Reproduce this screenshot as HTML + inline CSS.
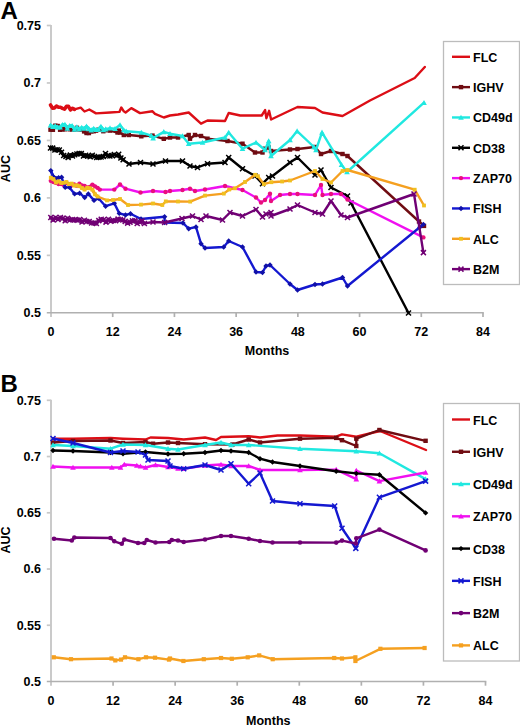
<!DOCTYPE html>
<html><head><meta charset="utf-8"><title>AUC over time</title>
<style>
html,body{margin:0;padding:0;background:#fff;}
body{width:520px;height:728px;overflow:hidden;}
svg{display:block;}
.t{font-family:"Liberation Sans",sans-serif;font-weight:bold;font-size:12.5px;fill:#000;}
.ttl{font-family:"Liberation Sans",sans-serif;font-weight:bold;font-size:24px;fill:#000;}
</style></head><body>
<svg width="520" height="728" viewBox="0 0 520 728">
<rect width="520" height="728" fill="#fff"/>
<path d="M51 24.9V317.05" fill="none" stroke="#c8c8c8" stroke-width="1.9"/>
<path d="M46.8 312.85H483.8" fill="none" stroke="#b0b0b0" stroke-width="1.5"/>
<path d="M46.8 25.5H51" stroke="#c8c8c8" stroke-width="1.7"/>
<text x="41" y="29.8" text-anchor="end" class="t">0.75</text>
<path d="M46.8 82.97H51" stroke="#c8c8c8" stroke-width="1.7"/>
<text x="41" y="87.27" text-anchor="end" class="t">0.7</text>
<path d="M46.8 140.44H51" stroke="#c8c8c8" stroke-width="1.7"/>
<text x="41" y="144.74" text-anchor="end" class="t">0.65</text>
<path d="M46.8 197.91H51" stroke="#c8c8c8" stroke-width="1.7"/>
<text x="41" y="202.21" text-anchor="end" class="t">0.6</text>
<path d="M46.8 255.38H51" stroke="#c8c8c8" stroke-width="1.7"/>
<text x="41" y="259.68" text-anchor="end" class="t">0.55</text>
<text x="41" y="317.15" text-anchor="end" class="t">0.5</text>
<text x="51" y="335.8" text-anchor="middle" class="t">0</text>
<path d="M112.71 312.85V317.05" stroke="#b0b0b0" stroke-width="1.7"/>
<text x="112.71" y="335.8" text-anchor="middle" class="t">12</text>
<path d="M174.43 312.85V317.05" stroke="#b0b0b0" stroke-width="1.7"/>
<text x="174.43" y="335.8" text-anchor="middle" class="t">24</text>
<path d="M236.14 312.85V317.05" stroke="#b0b0b0" stroke-width="1.7"/>
<text x="236.14" y="335.8" text-anchor="middle" class="t">36</text>
<path d="M297.86 312.85V317.05" stroke="#b0b0b0" stroke-width="1.7"/>
<text x="297.86" y="335.8" text-anchor="middle" class="t">48</text>
<path d="M359.57 312.85V317.05" stroke="#b0b0b0" stroke-width="1.7"/>
<text x="359.57" y="335.8" text-anchor="middle" class="t">60</text>
<path d="M421.29 312.85V317.05" stroke="#b0b0b0" stroke-width="1.7"/>
<text x="421.29" y="335.8" text-anchor="middle" class="t">72</text>
<path d="M483 312.85V317.05" stroke="#b0b0b0" stroke-width="1.7"/>
<text x="483" y="335.8" text-anchor="middle" class="t">84</text>
<text x="267" y="355.3" text-anchor="middle" class="t">Months</text>
<text transform="translate(10.2 168.6) rotate(-90)" text-anchor="middle" class="t">AUC</text>
<text x="0.4" y="19" class="ttl">A</text>
<polyline points="50.5,104.96 52.5,108.14 54.5,107.97 56.5,106.02 58.5,107.24 60.5,107.26 62.5,108.32 64.5,109.11 66.5,106.39 68.5,106.3 70.5,109.87 72.5,108.26 74.5,109.41" fill="none" stroke="#dc0e16" stroke-width="3.6" stroke-linejoin="round" stroke-linecap="round"/>
<polyline points="50.5,104.96 52.5,108.14 54.5,107.97 56.5,106.02 58.5,107.24 60.5,107.26 62.5,108.32 64.5,109.11 66.5,106.39 68.5,106.3 70.5,109.87 72.5,108.26 74.5,109.41 80.7,107.6 84.5,111.5 89.3,109.5 96,113.4 110,112.5 119.4,111.9 121.3,107.5 123.8,111.3 125.6,112.5 131.3,108.1 140,113.1 152.5,111.3 155,113.8 163.8,117.5 170,115.5 178,114.5 188.7,112.5 201,123.7 207.5,120.5 225,121 228.7,113 240.2,115.5 261.7,115.5 265.1,110.1 266.4,118.2 269.1,110.8 271.1,119.5 290,110.5 297.5,107 315,108 322.5,112.5 342.5,116 370,100.5 414.7,78 424.8,67" fill="none" stroke="#dc0e16" stroke-width="2.4" stroke-linejoin="round" stroke-linecap="round"/>
<polyline points="50.5,129.69 52.9,129.81 55.3,125.69 57.7,125.99 60.1,129.75 62.5,129.43 64.9,129.27 67.3,127.7 69.7,129.29 72.1,129.45 74.5,129.57 76.9,127.83 79.3,129.42 81.7,129.53 84.1,131.4 86.5,133 88.9,133.07 91.3,131.41 93.7,131.22 96.1,130.66 98.5,129.71 100.9,129.39 103.3,131.21 105.7,130.23" fill="none" stroke="#700c12" stroke-width="3.0" stroke-linejoin="round" stroke-linecap="round"/>
<polyline points="50.5,129.69 52.9,129.81 55.3,125.69 57.7,125.99 60.1,129.75 62.5,129.43 64.9,129.27 67.3,127.7 69.7,129.29 72.1,129.45 74.5,129.57 76.9,127.83 79.3,129.42 81.7,129.53 84.1,131.4 86.5,133 88.9,133.07 91.3,131.41 93.7,131.22 96.1,130.66 98.5,129.71 100.9,129.39 103.3,131.21 105.7,130.23 110,130.6 117.5,132.5 118.8,130.6 120,132.5 123.8,135 128.8,135 141.3,136.3 152.5,135.6 163.8,138.8 170,137.5 178,137.5 188.7,135 190,138.7 195,135 201,136 207.5,138.7 227.5,141 242.5,143.7 255,152.5 262.5,152.5 265,148.7 268.7,147.5 271,151 290,149.5 297.5,149 315,147 321,154 331,151 342.5,154 347.5,156 419,221.5 424,225.9" fill="none" stroke="#700c12" stroke-width="2.4" stroke-linejoin="round" stroke-linecap="round"/>
<rect x="48.3" y="127.49" width="4.4" height="4.4" fill="#700c12"/>
<rect x="50.7" y="127.61" width="4.4" height="4.4" fill="#700c12"/>
<rect x="53.1" y="123.49" width="4.4" height="4.4" fill="#700c12"/>
<rect x="55.5" y="123.79" width="4.4" height="4.4" fill="#700c12"/>
<rect x="57.9" y="127.55" width="4.4" height="4.4" fill="#700c12"/>
<rect x="60.3" y="127.23" width="4.4" height="4.4" fill="#700c12"/>
<rect x="62.7" y="127.07" width="4.4" height="4.4" fill="#700c12"/>
<rect x="65.1" y="125.5" width="4.4" height="4.4" fill="#700c12"/>
<rect x="67.5" y="127.09" width="4.4" height="4.4" fill="#700c12"/>
<rect x="69.9" y="127.25" width="4.4" height="4.4" fill="#700c12"/>
<rect x="72.3" y="127.37" width="4.4" height="4.4" fill="#700c12"/>
<rect x="74.7" y="125.63" width="4.4" height="4.4" fill="#700c12"/>
<rect x="77.1" y="127.22" width="4.4" height="4.4" fill="#700c12"/>
<rect x="79.5" y="127.33" width="4.4" height="4.4" fill="#700c12"/>
<rect x="81.9" y="129.2" width="4.4" height="4.4" fill="#700c12"/>
<rect x="84.3" y="130.8" width="4.4" height="4.4" fill="#700c12"/>
<rect x="86.7" y="130.87" width="4.4" height="4.4" fill="#700c12"/>
<rect x="89.1" y="129.21" width="4.4" height="4.4" fill="#700c12"/>
<rect x="91.5" y="129.02" width="4.4" height="4.4" fill="#700c12"/>
<rect x="93.9" y="128.46" width="4.4" height="4.4" fill="#700c12"/>
<rect x="96.3" y="127.51" width="4.4" height="4.4" fill="#700c12"/>
<rect x="98.7" y="127.19" width="4.4" height="4.4" fill="#700c12"/>
<rect x="101.1" y="129.01" width="4.4" height="4.4" fill="#700c12"/>
<rect x="103.5" y="128.03" width="4.4" height="4.4" fill="#700c12"/>
<rect x="107.8" y="128.4" width="4.4" height="4.4" fill="#700c12"/>
<rect x="115.3" y="130.3" width="4.4" height="4.4" fill="#700c12"/>
<rect x="116.6" y="128.4" width="4.4" height="4.4" fill="#700c12"/>
<rect x="117.8" y="130.3" width="4.4" height="4.4" fill="#700c12"/>
<rect x="121.6" y="132.8" width="4.4" height="4.4" fill="#700c12"/>
<rect x="126.6" y="132.8" width="4.4" height="4.4" fill="#700c12"/>
<rect x="139.1" y="134.1" width="4.4" height="4.4" fill="#700c12"/>
<rect x="150.3" y="133.4" width="4.4" height="4.4" fill="#700c12"/>
<rect x="161.6" y="136.6" width="4.4" height="4.4" fill="#700c12"/>
<rect x="167.8" y="135.3" width="4.4" height="4.4" fill="#700c12"/>
<rect x="175.8" y="135.3" width="4.4" height="4.4" fill="#700c12"/>
<rect x="186.5" y="132.8" width="4.4" height="4.4" fill="#700c12"/>
<rect x="187.8" y="136.5" width="4.4" height="4.4" fill="#700c12"/>
<rect x="192.8" y="132.8" width="4.4" height="4.4" fill="#700c12"/>
<rect x="198.8" y="133.8" width="4.4" height="4.4" fill="#700c12"/>
<rect x="205.3" y="136.5" width="4.4" height="4.4" fill="#700c12"/>
<rect x="225.3" y="138.8" width="4.4" height="4.4" fill="#700c12"/>
<rect x="240.3" y="141.5" width="4.4" height="4.4" fill="#700c12"/>
<rect x="252.8" y="150.3" width="4.4" height="4.4" fill="#700c12"/>
<rect x="260.3" y="150.3" width="4.4" height="4.4" fill="#700c12"/>
<rect x="262.8" y="146.5" width="4.4" height="4.4" fill="#700c12"/>
<rect x="266.5" y="145.3" width="4.4" height="4.4" fill="#700c12"/>
<rect x="268.8" y="148.8" width="4.4" height="4.4" fill="#700c12"/>
<rect x="287.8" y="147.3" width="4.4" height="4.4" fill="#700c12"/>
<rect x="295.3" y="146.8" width="4.4" height="4.4" fill="#700c12"/>
<rect x="312.8" y="144.8" width="4.4" height="4.4" fill="#700c12"/>
<rect x="318.8" y="151.8" width="4.4" height="4.4" fill="#700c12"/>
<rect x="328.8" y="148.8" width="4.4" height="4.4" fill="#700c12"/>
<rect x="340.3" y="151.8" width="4.4" height="4.4" fill="#700c12"/>
<rect x="345.3" y="153.8" width="4.4" height="4.4" fill="#700c12"/>
<rect x="416.8" y="219.3" width="4.4" height="4.4" fill="#700c12"/>
<rect x="421.8" y="223.7" width="4.4" height="4.4" fill="#700c12"/>
<polyline points="50.5,125.24 52.9,126.77 55.3,125.98 57.7,127.16 60.1,127.32 62.5,124.68 64.9,124.48 67.3,128.49 69.7,125.77 72.1,125.7 74.5,129.49 76.9,127.15 79.3,129.09 81.7,127.54 84.1,128.5 86.5,126.34 88.9,128.84 91.3,130.14 93.7,128.62 96.1,129.71 98.5,129.41 100.9,126.53 103.3,129.9 105.7,129.11" fill="none" stroke="#20e8e0" stroke-width="3.0" stroke-linejoin="round" stroke-linecap="round"/>
<polyline points="50.5,125.24 52.9,126.77 55.3,125.98 57.7,127.16 60.1,127.32 62.5,124.68 64.9,124.48 67.3,128.49 69.7,125.77 72.1,125.7 74.5,129.49 76.9,127.15 79.3,129.09 81.7,127.54 84.1,128.5 86.5,126.34 88.9,128.84 91.3,130.14 93.7,128.62 96.1,129.71 98.5,129.41 100.9,126.53 103.3,129.9 105.7,129.11 110,128.1 115,128.8 120,125 123.8,130 126.3,131.3 141.3,132.5 151.3,135.6 153.1,138.1 163.8,131.9 170,133.7 182.5,136 188.7,143.7 202.5,142.5 225,137.5 228.7,132.5 242.5,148.7 256,142.5 265,150 268.7,141 271,156 290,140 297.1,131.1 314,147 316,150 322,132.4 341.5,164.7 347,172 424,102.7" fill="none" stroke="#20e8e0" stroke-width="2.4" stroke-linejoin="round" stroke-linecap="round"/>
<path d="M50.5 122.44L53.3 127.54L47.7 127.54Z" fill="#20e8e0"/>
<path d="M52.9 123.97L55.7 129.07L50.1 129.07Z" fill="#20e8e0"/>
<path d="M55.3 123.18L58.1 128.28L52.5 128.28Z" fill="#20e8e0"/>
<path d="M57.7 124.36L60.5 129.46L54.9 129.46Z" fill="#20e8e0"/>
<path d="M60.1 124.52L62.9 129.62L57.3 129.62Z" fill="#20e8e0"/>
<path d="M62.5 121.88L65.3 126.98L59.7 126.98Z" fill="#20e8e0"/>
<path d="M64.9 121.68L67.7 126.78L62.1 126.78Z" fill="#20e8e0"/>
<path d="M67.3 125.69L70.1 130.79L64.5 130.79Z" fill="#20e8e0"/>
<path d="M69.7 122.97L72.5 128.07L66.9 128.07Z" fill="#20e8e0"/>
<path d="M72.1 122.9L74.9 128L69.3 128Z" fill="#20e8e0"/>
<path d="M74.5 126.69L77.3 131.79L71.7 131.79Z" fill="#20e8e0"/>
<path d="M76.9 124.35L79.7 129.45L74.1 129.45Z" fill="#20e8e0"/>
<path d="M79.3 126.29L82.1 131.39L76.5 131.39Z" fill="#20e8e0"/>
<path d="M81.7 124.74L84.5 129.84L78.9 129.84Z" fill="#20e8e0"/>
<path d="M84.1 125.7L86.9 130.8L81.3 130.8Z" fill="#20e8e0"/>
<path d="M86.5 123.54L89.3 128.64L83.7 128.64Z" fill="#20e8e0"/>
<path d="M88.9 126.04L91.7 131.14L86.1 131.14Z" fill="#20e8e0"/>
<path d="M91.3 127.34L94.1 132.44L88.5 132.44Z" fill="#20e8e0"/>
<path d="M93.7 125.82L96.5 130.92L90.9 130.92Z" fill="#20e8e0"/>
<path d="M96.1 126.91L98.9 132.01L93.3 132.01Z" fill="#20e8e0"/>
<path d="M98.5 126.61L101.3 131.71L95.7 131.71Z" fill="#20e8e0"/>
<path d="M100.9 123.73L103.7 128.83L98.1 128.83Z" fill="#20e8e0"/>
<path d="M103.3 127.1L106.1 132.2L100.5 132.2Z" fill="#20e8e0"/>
<path d="M105.7 126.31L108.5 131.41L102.9 131.41Z" fill="#20e8e0"/>
<path d="M110 125.3L112.8 130.4L107.2 130.4Z" fill="#20e8e0"/>
<path d="M115 126L117.8 131.1L112.2 131.1Z" fill="#20e8e0"/>
<path d="M120 122.2L122.8 127.3L117.2 127.3Z" fill="#20e8e0"/>
<path d="M123.8 127.2L126.6 132.3L121 132.3Z" fill="#20e8e0"/>
<path d="M126.3 128.5L129.1 133.6L123.5 133.6Z" fill="#20e8e0"/>
<path d="M141.3 129.7L144.1 134.8L138.5 134.8Z" fill="#20e8e0"/>
<path d="M151.3 132.8L154.1 137.9L148.5 137.9Z" fill="#20e8e0"/>
<path d="M153.1 135.3L155.9 140.4L150.3 140.4Z" fill="#20e8e0"/>
<path d="M163.8 129.1L166.6 134.2L161 134.2Z" fill="#20e8e0"/>
<path d="M170 130.9L172.8 136L167.2 136Z" fill="#20e8e0"/>
<path d="M182.5 133.2L185.3 138.3L179.7 138.3Z" fill="#20e8e0"/>
<path d="M188.7 140.9L191.5 146L185.9 146Z" fill="#20e8e0"/>
<path d="M202.5 139.7L205.3 144.8L199.7 144.8Z" fill="#20e8e0"/>
<path d="M225 134.7L227.8 139.8L222.2 139.8Z" fill="#20e8e0"/>
<path d="M228.7 129.7L231.5 134.8L225.9 134.8Z" fill="#20e8e0"/>
<path d="M242.5 145.9L245.3 151L239.7 151Z" fill="#20e8e0"/>
<path d="M256 139.7L258.8 144.8L253.2 144.8Z" fill="#20e8e0"/>
<path d="M265 147.2L267.8 152.3L262.2 152.3Z" fill="#20e8e0"/>
<path d="M268.7 138.2L271.5 143.3L265.9 143.3Z" fill="#20e8e0"/>
<path d="M271 153.2L273.8 158.3L268.2 158.3Z" fill="#20e8e0"/>
<path d="M290 137.2L292.8 142.3L287.2 142.3Z" fill="#20e8e0"/>
<path d="M297.1 128.3L299.9 133.4L294.3 133.4Z" fill="#20e8e0"/>
<path d="M314 144.2L316.8 149.3L311.2 149.3Z" fill="#20e8e0"/>
<path d="M316 147.2L318.8 152.3L313.2 152.3Z" fill="#20e8e0"/>
<path d="M322 129.6L324.8 134.7L319.2 134.7Z" fill="#20e8e0"/>
<path d="M341.5 161.9L344.3 167L338.7 167Z" fill="#20e8e0"/>
<path d="M347 169.2L349.8 174.3L344.2 174.3Z" fill="#20e8e0"/>
<path d="M424 99.9L426.8 105L421.2 105Z" fill="#20e8e0"/>
<polyline points="50.5,148 52.7,148.15 54.9,149.93 57.1,149.67 59.3,149.99 61.5,152.23 63.7,155.51 65.9,156.38 68.1,157.49 70.3,155.11 72.5,156 74.7,154.69 76.9,153.98 79.1,153.42 81.3,153.51 83.5,155.91 85.7,155.32 87.9,156.01 90.1,156.75 92.3,155.22 94.5,156.43 96.7,157.58 98.9,157.25 101.1,156.98 103.3,156.46 105.5,153.57 107.7,155.67 109.9,156.05 112.1,155.54 114.3,154.42 116.5,155.67 118.7,154.34 120.9,158.03 123.1,159.84" fill="none" stroke="#000000" stroke-width="3.2" stroke-linejoin="round" stroke-linecap="round"/>
<polyline points="50.5,148 52.7,148.15 54.9,149.93 57.1,149.67 59.3,149.99 61.5,152.23 63.7,155.51 65.9,156.38 68.1,157.49 70.3,155.11 72.5,156 74.7,154.69 76.9,153.98 79.1,153.42 81.3,153.51 83.5,155.91 85.7,155.32 87.9,156.01 90.1,156.75 92.3,155.22 94.5,156.43 96.7,157.58 98.9,157.25 101.1,156.98 103.3,156.46 105.5,153.57 107.7,155.67 109.9,156.05 112.1,155.54 114.3,154.42 116.5,155.67 118.7,154.34 120.9,158.03 123.1,159.84 129,164 140.5,162.5 153,164 165.5,161 182.5,161 190,166 197.5,167.5 207.5,163.7 225,162.5 228.7,157.5 242.5,168.7 255,176 262.5,183.7 268.7,177.5 272.5,176 290,162.5 297.5,157.5 315,175 321,170 331,187.5 347.5,196 351,203 408.5,313" fill="none" stroke="#000000" stroke-width="2.4" stroke-linejoin="round" stroke-linecap="round"/>
<path d="M48 145.5L53 150.5M48 150.5L53 145.5" stroke="#000000" stroke-width="1.5" fill="none"/>
<path d="M50.2 145.65L55.2 150.65M50.2 150.65L55.2 145.65" stroke="#000000" stroke-width="1.5" fill="none"/>
<path d="M52.4 147.43L57.4 152.43M52.4 152.43L57.4 147.43" stroke="#000000" stroke-width="1.5" fill="none"/>
<path d="M54.6 147.17L59.6 152.17M54.6 152.17L59.6 147.17" stroke="#000000" stroke-width="1.5" fill="none"/>
<path d="M56.8 147.49L61.8 152.49M56.8 152.49L61.8 147.49" stroke="#000000" stroke-width="1.5" fill="none"/>
<path d="M59 149.73L64 154.73M59 154.73L64 149.73" stroke="#000000" stroke-width="1.5" fill="none"/>
<path d="M61.2 153.01L66.2 158.01M61.2 158.01L66.2 153.01" stroke="#000000" stroke-width="1.5" fill="none"/>
<path d="M63.4 153.88L68.4 158.88M63.4 158.88L68.4 153.88" stroke="#000000" stroke-width="1.5" fill="none"/>
<path d="M65.6 154.99L70.6 159.99M65.6 159.99L70.6 154.99" stroke="#000000" stroke-width="1.5" fill="none"/>
<path d="M67.8 152.61L72.8 157.61M67.8 157.61L72.8 152.61" stroke="#000000" stroke-width="1.5" fill="none"/>
<path d="M70 153.5L75 158.5M70 158.5L75 153.5" stroke="#000000" stroke-width="1.5" fill="none"/>
<path d="M72.2 152.19L77.2 157.19M72.2 157.19L77.2 152.19" stroke="#000000" stroke-width="1.5" fill="none"/>
<path d="M74.4 151.48L79.4 156.48M74.4 156.48L79.4 151.48" stroke="#000000" stroke-width="1.5" fill="none"/>
<path d="M76.6 150.92L81.6 155.92M76.6 155.92L81.6 150.92" stroke="#000000" stroke-width="1.5" fill="none"/>
<path d="M78.8 151.01L83.8 156.01M78.8 156.01L83.8 151.01" stroke="#000000" stroke-width="1.5" fill="none"/>
<path d="M81 153.41L86 158.41M81 158.41L86 153.41" stroke="#000000" stroke-width="1.5" fill="none"/>
<path d="M83.2 152.82L88.2 157.82M83.2 157.82L88.2 152.82" stroke="#000000" stroke-width="1.5" fill="none"/>
<path d="M85.4 153.51L90.4 158.51M85.4 158.51L90.4 153.51" stroke="#000000" stroke-width="1.5" fill="none"/>
<path d="M87.6 154.25L92.6 159.25M87.6 159.25L92.6 154.25" stroke="#000000" stroke-width="1.5" fill="none"/>
<path d="M89.8 152.72L94.8 157.72M89.8 157.72L94.8 152.72" stroke="#000000" stroke-width="1.5" fill="none"/>
<path d="M92 153.93L97 158.93M92 158.93L97 153.93" stroke="#000000" stroke-width="1.5" fill="none"/>
<path d="M94.2 155.08L99.2 160.08M94.2 160.08L99.2 155.08" stroke="#000000" stroke-width="1.5" fill="none"/>
<path d="M96.4 154.75L101.4 159.75M96.4 159.75L101.4 154.75" stroke="#000000" stroke-width="1.5" fill="none"/>
<path d="M98.6 154.48L103.6 159.48M98.6 159.48L103.6 154.48" stroke="#000000" stroke-width="1.5" fill="none"/>
<path d="M100.8 153.96L105.8 158.96M100.8 158.96L105.8 153.96" stroke="#000000" stroke-width="1.5" fill="none"/>
<path d="M103 151.07L108 156.07M103 156.07L108 151.07" stroke="#000000" stroke-width="1.5" fill="none"/>
<path d="M105.2 153.17L110.2 158.17M105.2 158.17L110.2 153.17" stroke="#000000" stroke-width="1.5" fill="none"/>
<path d="M107.4 153.55L112.4 158.55M107.4 158.55L112.4 153.55" stroke="#000000" stroke-width="1.5" fill="none"/>
<path d="M109.6 153.04L114.6 158.04M109.6 158.04L114.6 153.04" stroke="#000000" stroke-width="1.5" fill="none"/>
<path d="M111.8 151.92L116.8 156.92M111.8 156.92L116.8 151.92" stroke="#000000" stroke-width="1.5" fill="none"/>
<path d="M114 153.17L119 158.17M114 158.17L119 153.17" stroke="#000000" stroke-width="1.5" fill="none"/>
<path d="M116.2 151.84L121.2 156.84M116.2 156.84L121.2 151.84" stroke="#000000" stroke-width="1.5" fill="none"/>
<path d="M118.4 155.53L123.4 160.53M118.4 160.53L123.4 155.53" stroke="#000000" stroke-width="1.5" fill="none"/>
<path d="M120.6 157.34L125.6 162.34M120.6 162.34L125.6 157.34" stroke="#000000" stroke-width="1.5" fill="none"/>
<path d="M126.5 161.5L131.5 166.5M126.5 166.5L131.5 161.5" stroke="#000000" stroke-width="1.5" fill="none"/>
<path d="M138 160L143 165M138 165L143 160" stroke="#000000" stroke-width="1.5" fill="none"/>
<path d="M150.5 161.5L155.5 166.5M150.5 166.5L155.5 161.5" stroke="#000000" stroke-width="1.5" fill="none"/>
<path d="M163 158.5L168 163.5M163 163.5L168 158.5" stroke="#000000" stroke-width="1.5" fill="none"/>
<path d="M180 158.5L185 163.5M180 163.5L185 158.5" stroke="#000000" stroke-width="1.5" fill="none"/>
<path d="M187.5 163.5L192.5 168.5M187.5 168.5L192.5 163.5" stroke="#000000" stroke-width="1.5" fill="none"/>
<path d="M195 165L200 170M195 170L200 165" stroke="#000000" stroke-width="1.5" fill="none"/>
<path d="M205 161.2L210 166.2M205 166.2L210 161.2" stroke="#000000" stroke-width="1.5" fill="none"/>
<path d="M222.5 160L227.5 165M222.5 165L227.5 160" stroke="#000000" stroke-width="1.5" fill="none"/>
<path d="M226.2 155L231.2 160M226.2 160L231.2 155" stroke="#000000" stroke-width="1.5" fill="none"/>
<path d="M240 166.2L245 171.2M240 171.2L245 166.2" stroke="#000000" stroke-width="1.5" fill="none"/>
<path d="M252.5 173.5L257.5 178.5M252.5 178.5L257.5 173.5" stroke="#000000" stroke-width="1.5" fill="none"/>
<path d="M260 181.2L265 186.2M260 186.2L265 181.2" stroke="#000000" stroke-width="1.5" fill="none"/>
<path d="M266.2 175L271.2 180M266.2 180L271.2 175" stroke="#000000" stroke-width="1.5" fill="none"/>
<path d="M270 173.5L275 178.5M270 178.5L275 173.5" stroke="#000000" stroke-width="1.5" fill="none"/>
<path d="M287.5 160L292.5 165M287.5 165L292.5 160" stroke="#000000" stroke-width="1.5" fill="none"/>
<path d="M295 155L300 160M295 160L300 155" stroke="#000000" stroke-width="1.5" fill="none"/>
<path d="M312.5 172.5L317.5 177.5M312.5 177.5L317.5 172.5" stroke="#000000" stroke-width="1.5" fill="none"/>
<path d="M318.5 167.5L323.5 172.5M318.5 172.5L323.5 167.5" stroke="#000000" stroke-width="1.5" fill="none"/>
<path d="M328.5 185L333.5 190M328.5 190L333.5 185" stroke="#000000" stroke-width="1.5" fill="none"/>
<path d="M345 193.5L350 198.5M345 198.5L350 193.5" stroke="#000000" stroke-width="1.5" fill="none"/>
<path d="M348.5 200.5L353.5 205.5M348.5 205.5L353.5 200.5" stroke="#000000" stroke-width="1.5" fill="none"/>
<path d="M406 310.5L411 315.5M406 315.5L411 310.5" stroke="#000000" stroke-width="1.5" fill="none"/>
<polyline points="50.8,180.87 53.4,181.98 56,182.89 58.6,183.94 61.2,183.95 63.8,185.11 66.4,183.04 69,184.1 71.6,185.21 74.2,184.39 76.8,185.66 79.4,183.82 82,185.57 84.6,185.84 87.2,187.43 89.8,186.9 92.4,184.59 95,186.35 97.6,187.84 99.8,189.6" fill="none" stroke="#f010f0" stroke-width="3.0" stroke-linejoin="round" stroke-linecap="round"/>
<polyline points="50.8,180.87 53.4,181.98 56,182.89 58.6,183.94 61.2,183.95 63.8,185.11 66.4,183.04 69,184.1 71.6,185.21 74.2,184.39 76.8,185.66 79.4,183.82 82,185.57 84.6,185.84 87.2,187.43 89.8,186.9 92.4,184.59 95,186.35 97.6,187.84 99.8,189.6 114.3,189.6 120,184.5 125.5,188.7 140.5,192.5 153,191 165.5,192 170,191 182.5,190 190,188.7 195,191 205,189.5 225,186 242.5,190 256,197.5 261,202.5 265,200 270,193.7 271,201 280,195 290,194 297.5,194 315,195 321,185 322.5,195 331,194 341,194 347.5,199.5 423.4,237.4" fill="none" stroke="#f010f0" stroke-width="2.4" stroke-linejoin="round" stroke-linecap="round"/>
<circle cx="50.8" cy="180.87" r="2.2" fill="#e8107c"/>
<circle cx="53.4" cy="181.98" r="2.2" fill="#e8107c"/>
<circle cx="56" cy="182.89" r="2.2" fill="#e8107c"/>
<circle cx="58.6" cy="183.94" r="2.2" fill="#e8107c"/>
<circle cx="61.2" cy="183.95" r="2.2" fill="#e8107c"/>
<circle cx="63.8" cy="185.11" r="2.2" fill="#e8107c"/>
<circle cx="66.4" cy="183.04" r="2.2" fill="#e8107c"/>
<circle cx="69" cy="184.1" r="2.2" fill="#e8107c"/>
<circle cx="71.6" cy="185.21" r="2.2" fill="#e8107c"/>
<circle cx="74.2" cy="184.39" r="2.2" fill="#e8107c"/>
<circle cx="76.8" cy="185.66" r="2.2" fill="#e8107c"/>
<circle cx="79.4" cy="183.82" r="2.2" fill="#e8107c"/>
<circle cx="82" cy="185.57" r="2.2" fill="#e8107c"/>
<circle cx="84.6" cy="185.84" r="2.2" fill="#e8107c"/>
<circle cx="87.2" cy="187.43" r="2.2" fill="#e8107c"/>
<circle cx="89.8" cy="186.9" r="2.2" fill="#e8107c"/>
<circle cx="92.4" cy="184.59" r="2.2" fill="#e8107c"/>
<circle cx="95" cy="186.35" r="2.2" fill="#e8107c"/>
<circle cx="97.6" cy="187.84" r="2.2" fill="#e8107c"/>
<circle cx="99.8" cy="189.6" r="2.2" fill="#e8107c"/>
<circle cx="114.3" cy="189.6" r="2.2" fill="#e8107c"/>
<circle cx="120" cy="184.5" r="2.2" fill="#e8107c"/>
<circle cx="125.5" cy="188.7" r="2.2" fill="#e8107c"/>
<circle cx="140.5" cy="192.5" r="2.2" fill="#e8107c"/>
<circle cx="153" cy="191" r="2.2" fill="#e8107c"/>
<circle cx="165.5" cy="192" r="2.2" fill="#e8107c"/>
<circle cx="170" cy="191" r="2.2" fill="#e8107c"/>
<circle cx="182.5" cy="190" r="2.2" fill="#e8107c"/>
<circle cx="190" cy="188.7" r="2.2" fill="#e8107c"/>
<circle cx="195" cy="191" r="2.2" fill="#e8107c"/>
<circle cx="205" cy="189.5" r="2.2" fill="#e8107c"/>
<circle cx="225" cy="186" r="2.2" fill="#e8107c"/>
<circle cx="242.5" cy="190" r="2.2" fill="#e8107c"/>
<circle cx="256" cy="197.5" r="2.2" fill="#e8107c"/>
<circle cx="261" cy="202.5" r="2.2" fill="#e8107c"/>
<circle cx="265" cy="200" r="2.2" fill="#e8107c"/>
<circle cx="270" cy="193.7" r="2.2" fill="#e8107c"/>
<circle cx="271" cy="201" r="2.2" fill="#e8107c"/>
<circle cx="280" cy="195" r="2.2" fill="#e8107c"/>
<circle cx="290" cy="194" r="2.2" fill="#e8107c"/>
<circle cx="297.5" cy="194" r="2.2" fill="#e8107c"/>
<circle cx="315" cy="195" r="2.2" fill="#e8107c"/>
<circle cx="321" cy="185" r="2.2" fill="#e8107c"/>
<circle cx="322.5" cy="195" r="2.2" fill="#e8107c"/>
<circle cx="331" cy="194" r="2.2" fill="#e8107c"/>
<circle cx="341" cy="194" r="2.2" fill="#e8107c"/>
<circle cx="347.5" cy="199.5" r="2.2" fill="#e8107c"/>
<circle cx="423.4" cy="237.4" r="2.2" fill="#e8107c"/>
<polyline points="50.8,170.59 53.4,176.72 56,178.33 58.6,177.71 61.6,177.3" fill="none" stroke="#1418d0" stroke-width="2.6" stroke-linejoin="round" stroke-linecap="round"/>
<polyline points="50.8,170.59 53.4,176.72 56,178.33 58.6,177.71 61.6,177.3 65.2,187.4 69.5,187.4 74.6,193.9 79.6,193.2 84.7,197.5 88.3,193.9 94,200.4 98.4,198.2 105.6,206.2 114.3,203.3 119.3,213.4 125.5,215 130.5,213.7 141,219 164.6,216.7 164.6,222.5 183,223 188.7,228.7 196,227 201,243.7 205,248 223.7,247 228.7,241 242.5,247 256,272 262.5,272.5 266,266 270,265 290,284 297.5,290 315,284.5 322.5,284 342.5,277.5 347.5,286 419.8,227.3 423.4,224.4" fill="none" stroke="#1418d0" stroke-width="2.4" stroke-linejoin="round" stroke-linecap="round"/>
<path d="M50.8 167.89L53.5 170.59L50.8 173.29L48.1 170.59Z" fill="#1010a8"/>
<path d="M53.4 174.02L56.1 176.72L53.4 179.42L50.7 176.72Z" fill="#1010a8"/>
<path d="M56 175.63L58.7 178.33L56 181.03L53.3 178.33Z" fill="#1010a8"/>
<path d="M58.6 175.01L61.3 177.71L58.6 180.41L55.9 177.71Z" fill="#1010a8"/>
<path d="M61.6 174.6L64.3 177.3L61.6 180L58.9 177.3Z" fill="#1010a8"/>
<path d="M65.2 184.7L67.9 187.4L65.2 190.1L62.5 187.4Z" fill="#1010a8"/>
<path d="M69.5 184.7L72.2 187.4L69.5 190.1L66.8 187.4Z" fill="#1010a8"/>
<path d="M74.6 191.2L77.3 193.9L74.6 196.6L71.9 193.9Z" fill="#1010a8"/>
<path d="M79.6 190.5L82.3 193.2L79.6 195.9L76.9 193.2Z" fill="#1010a8"/>
<path d="M84.7 194.8L87.4 197.5L84.7 200.2L82 197.5Z" fill="#1010a8"/>
<path d="M88.3 191.2L91 193.9L88.3 196.6L85.6 193.9Z" fill="#1010a8"/>
<path d="M94 197.7L96.7 200.4L94 203.1L91.3 200.4Z" fill="#1010a8"/>
<path d="M98.4 195.5L101.1 198.2L98.4 200.9L95.7 198.2Z" fill="#1010a8"/>
<path d="M105.6 203.5L108.3 206.2L105.6 208.9L102.9 206.2Z" fill="#1010a8"/>
<path d="M114.3 200.6L117 203.3L114.3 206L111.6 203.3Z" fill="#1010a8"/>
<path d="M119.3 210.7L122 213.4L119.3 216.1L116.6 213.4Z" fill="#1010a8"/>
<path d="M125.5 212.3L128.2 215L125.5 217.7L122.8 215Z" fill="#1010a8"/>
<path d="M130.5 211L133.2 213.7L130.5 216.4L127.8 213.7Z" fill="#1010a8"/>
<path d="M141 216.3L143.7 219L141 221.7L138.3 219Z" fill="#1010a8"/>
<path d="M164.6 214L167.3 216.7L164.6 219.4L161.9 216.7Z" fill="#1010a8"/>
<path d="M164.6 219.8L167.3 222.5L164.6 225.2L161.9 222.5Z" fill="#1010a8"/>
<path d="M183 220.3L185.7 223L183 225.7L180.3 223Z" fill="#1010a8"/>
<path d="M188.7 226L191.4 228.7L188.7 231.4L186 228.7Z" fill="#1010a8"/>
<path d="M196 224.3L198.7 227L196 229.7L193.3 227Z" fill="#1010a8"/>
<path d="M201 241L203.7 243.7L201 246.4L198.3 243.7Z" fill="#1010a8"/>
<path d="M205 245.3L207.7 248L205 250.7L202.3 248Z" fill="#1010a8"/>
<path d="M223.7 244.3L226.4 247L223.7 249.7L221 247Z" fill="#1010a8"/>
<path d="M228.7 238.3L231.4 241L228.7 243.7L226 241Z" fill="#1010a8"/>
<path d="M242.5 244.3L245.2 247L242.5 249.7L239.8 247Z" fill="#1010a8"/>
<path d="M256 269.3L258.7 272L256 274.7L253.3 272Z" fill="#1010a8"/>
<path d="M262.5 269.8L265.2 272.5L262.5 275.2L259.8 272.5Z" fill="#1010a8"/>
<path d="M266 263.3L268.7 266L266 268.7L263.3 266Z" fill="#1010a8"/>
<path d="M270 262.3L272.7 265L270 267.7L267.3 265Z" fill="#1010a8"/>
<path d="M290 281.3L292.7 284L290 286.7L287.3 284Z" fill="#1010a8"/>
<path d="M297.5 287.3L300.2 290L297.5 292.7L294.8 290Z" fill="#1010a8"/>
<path d="M315 281.8L317.7 284.5L315 287.2L312.3 284.5Z" fill="#1010a8"/>
<path d="M322.5 281.3L325.2 284L322.5 286.7L319.8 284Z" fill="#1010a8"/>
<path d="M342.5 274.8L345.2 277.5L342.5 280.2L339.8 277.5Z" fill="#1010a8"/>
<path d="M347.5 283.3L350.2 286L347.5 288.7L344.8 286Z" fill="#1010a8"/>
<path d="M419.8 224.6L422.5 227.3L419.8 230L417.1 227.3Z" fill="#1010a8"/>
<path d="M423.4 221.7L426.1 224.4L423.4 227.1L420.7 224.4Z" fill="#1010a8"/>
<polyline points="50.8,177.77 53.4,179.12 56,182.49 58.6,181.33 61.2,182.97 63.8,182.72 66.4,182.05 69,184.18 71.6,183.58 74.2,185.59 76.8,185.32 79.4,186.2 82,188.02 84.6,189.57 87.2,187.69 89.8,188.22 92.4,189.66 95,194.3 97.6,196.5" fill="none" stroke="#f5a020" stroke-width="3.2" stroke-linejoin="round" stroke-linecap="round"/>
<polyline points="50.8,177.77 53.4,179.12 56,182.49 58.6,181.33 61.2,182.97 63.8,182.72 66.4,182.05 69,184.18 71.6,183.58 74.2,185.59 76.8,185.32 79.4,186.2 82,188.02 84.6,189.57 87.2,187.69 89.8,188.22 92.4,189.66 95,194.3 97.6,196.5 107,200.4 113,200 120,199 128,205 141,204.6 153,203.5 162.3,205 165.8,201.4 178,201.5 190.2,201.6 205,195.6 223.8,193.6 229.2,189.5 235,188.3 245,182 255.2,174.8 257.9,176.2 263.9,184.2 271.3,182.2 282.1,181.5 290,180.5 315,171 322.5,179 331,182.5 342.5,171 347.5,170 414.7,189.7 424,205.5" fill="none" stroke="#f5a020" stroke-width="2.4" stroke-linejoin="round" stroke-linecap="round"/>
<rect x="48.9" y="175.87" width="3.8" height="3.8" fill="#f0c020"/>
<rect x="51.5" y="177.22" width="3.8" height="3.8" fill="#f0c020"/>
<rect x="54.1" y="180.59" width="3.8" height="3.8" fill="#f0c020"/>
<rect x="56.7" y="179.43" width="3.8" height="3.8" fill="#f0c020"/>
<rect x="59.3" y="181.07" width="3.8" height="3.8" fill="#f0c020"/>
<rect x="61.9" y="180.82" width="3.8" height="3.8" fill="#f0c020"/>
<rect x="64.5" y="180.15" width="3.8" height="3.8" fill="#f0c020"/>
<rect x="67.1" y="182.28" width="3.8" height="3.8" fill="#f0c020"/>
<rect x="69.7" y="181.68" width="3.8" height="3.8" fill="#f0c020"/>
<rect x="72.3" y="183.69" width="3.8" height="3.8" fill="#f0c020"/>
<rect x="74.9" y="183.42" width="3.8" height="3.8" fill="#f0c020"/>
<rect x="77.5" y="184.3" width="3.8" height="3.8" fill="#f0c020"/>
<rect x="80.1" y="186.12" width="3.8" height="3.8" fill="#f0c020"/>
<rect x="82.7" y="187.67" width="3.8" height="3.8" fill="#f0c020"/>
<rect x="85.3" y="185.79" width="3.8" height="3.8" fill="#f0c020"/>
<rect x="87.9" y="186.32" width="3.8" height="3.8" fill="#f0c020"/>
<rect x="90.5" y="187.76" width="3.8" height="3.8" fill="#f0c020"/>
<rect x="93.1" y="192.4" width="3.8" height="3.8" fill="#f0c020"/>
<rect x="95.7" y="194.6" width="3.8" height="3.8" fill="#f0c020"/>
<rect x="105.1" y="198.5" width="3.8" height="3.8" fill="#f0c020"/>
<rect x="111.1" y="198.1" width="3.8" height="3.8" fill="#f0c020"/>
<rect x="118.1" y="197.1" width="3.8" height="3.8" fill="#f0c020"/>
<rect x="126.1" y="203.1" width="3.8" height="3.8" fill="#f0c020"/>
<rect x="139.1" y="202.7" width="3.8" height="3.8" fill="#f0c020"/>
<rect x="151.1" y="201.6" width="3.8" height="3.8" fill="#f0c020"/>
<rect x="160.4" y="203.1" width="3.8" height="3.8" fill="#f0c020"/>
<rect x="163.9" y="199.5" width="3.8" height="3.8" fill="#f0c020"/>
<rect x="176.1" y="199.6" width="3.8" height="3.8" fill="#f0c020"/>
<rect x="188.3" y="199.7" width="3.8" height="3.8" fill="#f0c020"/>
<rect x="203.1" y="193.7" width="3.8" height="3.8" fill="#f0c020"/>
<rect x="221.9" y="191.7" width="3.8" height="3.8" fill="#f0c020"/>
<rect x="227.3" y="187.6" width="3.8" height="3.8" fill="#f0c020"/>
<rect x="233.1" y="186.4" width="3.8" height="3.8" fill="#f0c020"/>
<rect x="243.1" y="180.1" width="3.8" height="3.8" fill="#f0c020"/>
<rect x="253.3" y="172.9" width="3.8" height="3.8" fill="#f0c020"/>
<rect x="256" y="174.3" width="3.8" height="3.8" fill="#f0c020"/>
<rect x="262" y="182.3" width="3.8" height="3.8" fill="#f0c020"/>
<rect x="269.4" y="180.3" width="3.8" height="3.8" fill="#f0c020"/>
<rect x="280.2" y="179.6" width="3.8" height="3.8" fill="#f0c020"/>
<rect x="288.1" y="178.6" width="3.8" height="3.8" fill="#f0c020"/>
<rect x="313.1" y="169.1" width="3.8" height="3.8" fill="#f0c020"/>
<rect x="320.6" y="177.1" width="3.8" height="3.8" fill="#f0c020"/>
<rect x="329.1" y="180.6" width="3.8" height="3.8" fill="#f0c020"/>
<rect x="340.6" y="169.1" width="3.8" height="3.8" fill="#f0c020"/>
<rect x="345.6" y="168.1" width="3.8" height="3.8" fill="#f0c020"/>
<rect x="412.8" y="187.8" width="3.8" height="3.8" fill="#f0c020"/>
<rect x="422.1" y="203.6" width="3.8" height="3.8" fill="#f0c020"/>
<polyline points="50.8,217.53 53.2,220 55.6,217.45 58,219.42 60.4,217.56 62.8,218.2 65.2,220.73 67.6,218.37 70,219.98 72.4,219.63 74.8,219.85 77.2,220.21 79.6,219.48 82,221.95 84.4,220.28 86.8,221.45 89.2,221.47 91.6,222.96 94,223.02 96.4,223.44 98.8,220.6 101.2,219.26 103.6,219.73 106,222.1 108.4,219.29 110.8,221.24 113.2,220.55 115.6,220.82 118,219.15 120.4,219.64 122.8,219.91 125.2,221.36 127.6,223.12 130,222.26 132.4,220.85 134.8,220.61 137.2,223.43 139.6,221.96 142,221.02 144.4,223.43" fill="none" stroke="#700074" stroke-width="3.4" stroke-linejoin="round" stroke-linecap="round"/>
<polyline points="50.8,217.53 53.2,220 55.6,217.45 58,219.42 60.4,217.56 62.8,218.2 65.2,220.73 67.6,218.37 70,219.98 72.4,219.63 74.8,219.85 77.2,220.21 79.6,219.48 82,221.95 84.4,220.28 86.8,221.45 89.2,221.47 91.6,222.96 94,223.02 96.4,223.44 98.8,220.6 101.2,219.26 103.6,219.73 106,222.1 108.4,219.29 110.8,221.24 113.2,220.55 115.6,220.82 118,219.15 120.4,219.64 122.8,219.91 125.2,221.36 127.6,223.12 130,222.26 132.4,220.85 134.8,220.61 137.2,223.43 139.6,221.96 142,221.02 144.4,223.43 153,222 164.6,222.5 182,218.5 192.5,216 201,219.5 206,216 222.5,220 230,212.5 242.5,216 256,209.5 262.5,217 266,214 271,212.5 271,216 290,209 297.5,205 315,212.5 322.5,214 331,201 341,215 347.5,217.5 414,194 423.4,252.6" fill="none" stroke="#700074" stroke-width="2.4" stroke-linejoin="round" stroke-linecap="round"/>
<path d="M48.3 215.03L53.3 220.03M48.3 220.03L53.3 215.03" stroke="#700074" stroke-width="1.5" fill="none"/>
<path d="M50.7 217.5L55.7 222.5M50.7 222.5L55.7 217.5" stroke="#700074" stroke-width="1.5" fill="none"/>
<path d="M53.1 214.95L58.1 219.95M53.1 219.95L58.1 214.95" stroke="#700074" stroke-width="1.5" fill="none"/>
<path d="M55.5 216.92L60.5 221.92M55.5 221.92L60.5 216.92" stroke="#700074" stroke-width="1.5" fill="none"/>
<path d="M57.9 215.06L62.9 220.06M57.9 220.06L62.9 215.06" stroke="#700074" stroke-width="1.5" fill="none"/>
<path d="M60.3 215.7L65.3 220.7M60.3 220.7L65.3 215.7" stroke="#700074" stroke-width="1.5" fill="none"/>
<path d="M62.7 218.23L67.7 223.23M62.7 223.23L67.7 218.23" stroke="#700074" stroke-width="1.5" fill="none"/>
<path d="M65.1 215.87L70.1 220.87M65.1 220.87L70.1 215.87" stroke="#700074" stroke-width="1.5" fill="none"/>
<path d="M67.5 217.48L72.5 222.48M67.5 222.48L72.5 217.48" stroke="#700074" stroke-width="1.5" fill="none"/>
<path d="M69.9 217.13L74.9 222.13M69.9 222.13L74.9 217.13" stroke="#700074" stroke-width="1.5" fill="none"/>
<path d="M72.3 217.35L77.3 222.35M72.3 222.35L77.3 217.35" stroke="#700074" stroke-width="1.5" fill="none"/>
<path d="M74.7 217.71L79.7 222.71M74.7 222.71L79.7 217.71" stroke="#700074" stroke-width="1.5" fill="none"/>
<path d="M77.1 216.98L82.1 221.98M77.1 221.98L82.1 216.98" stroke="#700074" stroke-width="1.5" fill="none"/>
<path d="M79.5 219.45L84.5 224.45M79.5 224.45L84.5 219.45" stroke="#700074" stroke-width="1.5" fill="none"/>
<path d="M81.9 217.78L86.9 222.78M81.9 222.78L86.9 217.78" stroke="#700074" stroke-width="1.5" fill="none"/>
<path d="M84.3 218.95L89.3 223.95M84.3 223.95L89.3 218.95" stroke="#700074" stroke-width="1.5" fill="none"/>
<path d="M86.7 218.97L91.7 223.97M86.7 223.97L91.7 218.97" stroke="#700074" stroke-width="1.5" fill="none"/>
<path d="M89.1 220.46L94.1 225.46M89.1 225.46L94.1 220.46" stroke="#700074" stroke-width="1.5" fill="none"/>
<path d="M91.5 220.52L96.5 225.52M91.5 225.52L96.5 220.52" stroke="#700074" stroke-width="1.5" fill="none"/>
<path d="M93.9 220.94L98.9 225.94M93.9 225.94L98.9 220.94" stroke="#700074" stroke-width="1.5" fill="none"/>
<path d="M96.3 218.1L101.3 223.1M96.3 223.1L101.3 218.1" stroke="#700074" stroke-width="1.5" fill="none"/>
<path d="M98.7 216.76L103.7 221.76M98.7 221.76L103.7 216.76" stroke="#700074" stroke-width="1.5" fill="none"/>
<path d="M101.1 217.23L106.1 222.23M101.1 222.23L106.1 217.23" stroke="#700074" stroke-width="1.5" fill="none"/>
<path d="M103.5 219.6L108.5 224.6M103.5 224.6L108.5 219.6" stroke="#700074" stroke-width="1.5" fill="none"/>
<path d="M105.9 216.79L110.9 221.79M105.9 221.79L110.9 216.79" stroke="#700074" stroke-width="1.5" fill="none"/>
<path d="M108.3 218.74L113.3 223.74M108.3 223.74L113.3 218.74" stroke="#700074" stroke-width="1.5" fill="none"/>
<path d="M110.7 218.05L115.7 223.05M110.7 223.05L115.7 218.05" stroke="#700074" stroke-width="1.5" fill="none"/>
<path d="M113.1 218.32L118.1 223.32M113.1 223.32L118.1 218.32" stroke="#700074" stroke-width="1.5" fill="none"/>
<path d="M115.5 216.65L120.5 221.65M115.5 221.65L120.5 216.65" stroke="#700074" stroke-width="1.5" fill="none"/>
<path d="M117.9 217.14L122.9 222.14M117.9 222.14L122.9 217.14" stroke="#700074" stroke-width="1.5" fill="none"/>
<path d="M120.3 217.41L125.3 222.41M120.3 222.41L125.3 217.41" stroke="#700074" stroke-width="1.5" fill="none"/>
<path d="M122.7 218.86L127.7 223.86M122.7 223.86L127.7 218.86" stroke="#700074" stroke-width="1.5" fill="none"/>
<path d="M125.1 220.62L130.1 225.62M125.1 225.62L130.1 220.62" stroke="#700074" stroke-width="1.5" fill="none"/>
<path d="M127.5 219.76L132.5 224.76M127.5 224.76L132.5 219.76" stroke="#700074" stroke-width="1.5" fill="none"/>
<path d="M129.9 218.35L134.9 223.35M129.9 223.35L134.9 218.35" stroke="#700074" stroke-width="1.5" fill="none"/>
<path d="M132.3 218.11L137.3 223.11M132.3 223.11L137.3 218.11" stroke="#700074" stroke-width="1.5" fill="none"/>
<path d="M134.7 220.93L139.7 225.93M134.7 225.93L139.7 220.93" stroke="#700074" stroke-width="1.5" fill="none"/>
<path d="M137.1 219.46L142.1 224.46M137.1 224.46L142.1 219.46" stroke="#700074" stroke-width="1.5" fill="none"/>
<path d="M139.5 218.52L144.5 223.52M139.5 223.52L144.5 218.52" stroke="#700074" stroke-width="1.5" fill="none"/>
<path d="M141.9 220.93L146.9 225.93M141.9 225.93L146.9 220.93" stroke="#700074" stroke-width="1.5" fill="none"/>
<path d="M150.5 219.5L155.5 224.5M150.5 224.5L155.5 219.5" stroke="#700074" stroke-width="1.5" fill="none"/>
<path d="M162.1 220L167.1 225M162.1 225L167.1 220" stroke="#700074" stroke-width="1.5" fill="none"/>
<path d="M179.5 216L184.5 221M179.5 221L184.5 216" stroke="#700074" stroke-width="1.5" fill="none"/>
<path d="M190 213.5L195 218.5M190 218.5L195 213.5" stroke="#700074" stroke-width="1.5" fill="none"/>
<path d="M198.5 217L203.5 222M198.5 222L203.5 217" stroke="#700074" stroke-width="1.5" fill="none"/>
<path d="M203.5 213.5L208.5 218.5M203.5 218.5L208.5 213.5" stroke="#700074" stroke-width="1.5" fill="none"/>
<path d="M220 217.5L225 222.5M220 222.5L225 217.5" stroke="#700074" stroke-width="1.5" fill="none"/>
<path d="M227.5 210L232.5 215M227.5 215L232.5 210" stroke="#700074" stroke-width="1.5" fill="none"/>
<path d="M240 213.5L245 218.5M240 218.5L245 213.5" stroke="#700074" stroke-width="1.5" fill="none"/>
<path d="M253.5 207L258.5 212M253.5 212L258.5 207" stroke="#700074" stroke-width="1.5" fill="none"/>
<path d="M260 214.5L265 219.5M260 219.5L265 214.5" stroke="#700074" stroke-width="1.5" fill="none"/>
<path d="M263.5 211.5L268.5 216.5M263.5 216.5L268.5 211.5" stroke="#700074" stroke-width="1.5" fill="none"/>
<path d="M268.5 210L273.5 215M268.5 215L273.5 210" stroke="#700074" stroke-width="1.5" fill="none"/>
<path d="M268.5 213.5L273.5 218.5M268.5 218.5L273.5 213.5" stroke="#700074" stroke-width="1.5" fill="none"/>
<path d="M287.5 206.5L292.5 211.5M287.5 211.5L292.5 206.5" stroke="#700074" stroke-width="1.5" fill="none"/>
<path d="M295 202.5L300 207.5M295 207.5L300 202.5" stroke="#700074" stroke-width="1.5" fill="none"/>
<path d="M312.5 210L317.5 215M312.5 215L317.5 210" stroke="#700074" stroke-width="1.5" fill="none"/>
<path d="M320 211.5L325 216.5M320 216.5L325 211.5" stroke="#700074" stroke-width="1.5" fill="none"/>
<path d="M328.5 198.5L333.5 203.5M328.5 203.5L333.5 198.5" stroke="#700074" stroke-width="1.5" fill="none"/>
<path d="M338.5 212.5L343.5 217.5M338.5 217.5L343.5 212.5" stroke="#700074" stroke-width="1.5" fill="none"/>
<path d="M345 215L350 220M345 220L350 215" stroke="#700074" stroke-width="1.5" fill="none"/>
<path d="M411.5 191.5L416.5 196.5M411.5 196.5L416.5 191.5" stroke="#700074" stroke-width="1.5" fill="none"/>
<path d="M420.9 250.1L425.9 255.1M420.9 255.1L425.9 250.1" stroke="#700074" stroke-width="1.5" fill="none"/>
<rect x="443.5" y="41.5" width="76" height="243" fill="none" stroke="#bcbcbc" stroke-width="1.3"/>
<path d="M452 56.8H470" stroke="#dc0e16" stroke-width="2.4"/>
<text x="473" y="61.8" class="t">FLC</text>
<path d="M452 87.13H470" stroke="#700c12" stroke-width="2.4"/>
<rect x="458.8" y="84.93" width="4.4" height="4.4" fill="#700c12"/>
<text x="473" y="92.13" class="t">IGHV</text>
<path d="M452 117.46H470" stroke="#20e8e0" stroke-width="2.4"/>
<path d="M461 114.66L463.8 119.76L458.2 119.76Z" fill="#20e8e0"/>
<text x="473" y="122.46" class="t">CD49d</text>
<path d="M452 147.79H470" stroke="#000000" stroke-width="2.4"/>
<path d="M458.5 145.29L463.5 150.29M458.5 150.29L463.5 145.29" stroke="#000000" stroke-width="1.5" fill="none"/>
<text x="473" y="152.79" class="t">CD38</text>
<path d="M452 178.12H470" stroke="#f010f0" stroke-width="2.4"/>
<circle cx="461" cy="178.12" r="2.2" fill="#e8107c"/>
<text x="473" y="183.12" class="t">ZAP70</text>
<path d="M452 208.45H470" stroke="#1418d0" stroke-width="2.4"/>
<path d="M461 205.75L463.7 208.45L461 211.15L458.3 208.45Z" fill="#1010a8"/>
<text x="473" y="213.45" class="t">FISH</text>
<path d="M452 238.78H470" stroke="#f5a020" stroke-width="2.4"/>
<rect x="459.1" y="236.88" width="3.8" height="3.8" fill="#f0c020"/>
<text x="473" y="243.78" class="t">ALC</text>
<path d="M452 269.11H470" stroke="#700074" stroke-width="2.4"/>
<path d="M458.5 266.61L463.5 271.61M458.5 271.61L463.5 266.61" stroke="#700074" stroke-width="1.5" fill="none"/>
<text x="473" y="274.11" class="t">B2M</text>
<path d="M51 399.7V685.7" fill="none" stroke="#c8c8c8" stroke-width="1.9"/>
<path d="M46.8 681.5H486.3" fill="none" stroke="#b0b0b0" stroke-width="1.5"/>
<path d="M46.8 400.3H51" stroke="#c8c8c8" stroke-width="1.7"/>
<text x="41" y="404.6" text-anchor="end" class="t">0.75</text>
<path d="M46.8 456.54H51" stroke="#c8c8c8" stroke-width="1.7"/>
<text x="41" y="460.84" text-anchor="end" class="t">0.7</text>
<path d="M46.8 512.78H51" stroke="#c8c8c8" stroke-width="1.7"/>
<text x="41" y="517.08" text-anchor="end" class="t">0.65</text>
<path d="M46.8 569.02H51" stroke="#c8c8c8" stroke-width="1.7"/>
<text x="41" y="573.32" text-anchor="end" class="t">0.6</text>
<path d="M46.8 625.26H51" stroke="#c8c8c8" stroke-width="1.7"/>
<text x="41" y="629.56" text-anchor="end" class="t">0.55</text>
<text x="41" y="685.8" text-anchor="end" class="t">0.5</text>
<text x="51" y="704.5" text-anchor="middle" class="t">0</text>
<path d="M113.07 681.5V685.7" stroke="#b0b0b0" stroke-width="1.7"/>
<text x="113.07" y="704.5" text-anchor="middle" class="t">12</text>
<path d="M175.14 681.5V685.7" stroke="#b0b0b0" stroke-width="1.7"/>
<text x="175.14" y="704.5" text-anchor="middle" class="t">24</text>
<path d="M237.21 681.5V685.7" stroke="#b0b0b0" stroke-width="1.7"/>
<text x="237.21" y="704.5" text-anchor="middle" class="t">36</text>
<path d="M299.29 681.5V685.7" stroke="#b0b0b0" stroke-width="1.7"/>
<text x="299.29" y="704.5" text-anchor="middle" class="t">48</text>
<path d="M361.36 681.5V685.7" stroke="#b0b0b0" stroke-width="1.7"/>
<text x="361.36" y="704.5" text-anchor="middle" class="t">60</text>
<path d="M423.43 681.5V685.7" stroke="#b0b0b0" stroke-width="1.7"/>
<text x="423.43" y="704.5" text-anchor="middle" class="t">72</text>
<path d="M485.5 681.5V685.7" stroke="#b0b0b0" stroke-width="1.7"/>
<text x="485.5" y="704.5" text-anchor="middle" class="t">84</text>
<text x="268.25" y="724.7" text-anchor="middle" class="t">Months</text>
<text transform="translate(10.2 540) rotate(-90)" text-anchor="middle" class="t">AUC</text>
<text x="0.4" y="392.3" class="ttl">B</text>
<polyline points="53,438.7 73,438.7 110.5,438 123,438.7 145.5,439.5 150.5,437.5 168,438 183.7,439.5 205,437.5 216,440 221,437 248.7,436.2 260,437.5 277.5,435.5 300,435.5 336.2,436.7 342,434.4 356.3,436.7 380,431 426,450" fill="none" stroke="#dc0e16" stroke-width="2.4" stroke-linejoin="round" stroke-linecap="round"/>
<polyline points="53,442.5 73,441 110.5,440.5 123,443 145.5,442 153,443.7 168,442.5 178,443 205,444.2 232.5,444.5 248.7,439.5 260,442.5 300,438.7 336.2,437.9 342,440.2 356.3,446 356.3,438.7 379.4,430 425.6,440.8" fill="none" stroke="#700c12" stroke-width="2.4" stroke-linejoin="round" stroke-linecap="round"/>
<rect x="50.8" y="440.3" width="4.4" height="4.4" fill="#700c12"/>
<rect x="70.8" y="438.8" width="4.4" height="4.4" fill="#700c12"/>
<rect x="108.3" y="438.3" width="4.4" height="4.4" fill="#700c12"/>
<rect x="120.8" y="440.8" width="4.4" height="4.4" fill="#700c12"/>
<rect x="143.3" y="439.8" width="4.4" height="4.4" fill="#700c12"/>
<rect x="150.8" y="441.5" width="4.4" height="4.4" fill="#700c12"/>
<rect x="165.8" y="440.3" width="4.4" height="4.4" fill="#700c12"/>
<rect x="175.8" y="440.8" width="4.4" height="4.4" fill="#700c12"/>
<rect x="202.8" y="442" width="4.4" height="4.4" fill="#700c12"/>
<rect x="230.3" y="442.3" width="4.4" height="4.4" fill="#700c12"/>
<rect x="246.5" y="437.3" width="4.4" height="4.4" fill="#700c12"/>
<rect x="257.8" y="440.3" width="4.4" height="4.4" fill="#700c12"/>
<rect x="297.8" y="436.5" width="4.4" height="4.4" fill="#700c12"/>
<rect x="334" y="435.7" width="4.4" height="4.4" fill="#700c12"/>
<rect x="339.8" y="438" width="4.4" height="4.4" fill="#700c12"/>
<rect x="354.1" y="443.8" width="4.4" height="4.4" fill="#700c12"/>
<rect x="354.1" y="436.5" width="4.4" height="4.4" fill="#700c12"/>
<rect x="377.2" y="427.8" width="4.4" height="4.4" fill="#700c12"/>
<rect x="423.4" y="438.6" width="4.4" height="4.4" fill="#700c12"/>
<polyline points="53,445 73,446 110.5,448.7 123,444.5 145.5,445 168,448.7 178,449.5 205,445 221,442.5 231,445 248.7,445 300,448.7 356.3,451.2 379.4,453.2 425.6,479.1" fill="none" stroke="#20e8e0" stroke-width="2.4" stroke-linejoin="round" stroke-linecap="round"/>
<path d="M53 442.2L55.8 447.3L50.2 447.3Z" fill="#20e8e0"/>
<path d="M73 443.2L75.8 448.3L70.2 448.3Z" fill="#20e8e0"/>
<path d="M110.5 445.9L113.3 451L107.7 451Z" fill="#20e8e0"/>
<path d="M123 441.7L125.8 446.8L120.2 446.8Z" fill="#20e8e0"/>
<path d="M145.5 442.2L148.3 447.3L142.7 447.3Z" fill="#20e8e0"/>
<path d="M168 445.9L170.8 451L165.2 451Z" fill="#20e8e0"/>
<path d="M178 446.7L180.8 451.8L175.2 451.8Z" fill="#20e8e0"/>
<path d="M205 442.2L207.8 447.3L202.2 447.3Z" fill="#20e8e0"/>
<path d="M221 439.7L223.8 444.8L218.2 444.8Z" fill="#20e8e0"/>
<path d="M231 442.2L233.8 447.3L228.2 447.3Z" fill="#20e8e0"/>
<path d="M248.7 442.2L251.5 447.3L245.9 447.3Z" fill="#20e8e0"/>
<path d="M300 445.9L302.8 451L297.2 451Z" fill="#20e8e0"/>
<path d="M356.3 448.4L359.1 453.5L353.5 453.5Z" fill="#20e8e0"/>
<path d="M379.4 450.4L382.2 455.5L376.6 455.5Z" fill="#20e8e0"/>
<path d="M425.6 476.3L428.4 481.4L422.8 481.4Z" fill="#20e8e0"/>
<polyline points="53,466.5 73,467.5 111.8,467.5 120.5,467.5 124.3,464.5 136.8,465.5 140.5,466.3 145.5,467.5 155.5,465 168,467 178,468.5 183.7,468.7 205,465.5 221,464.5 231,466 248.7,466 260,470 300,470 336.2,469.6 356.3,479.1 356.3,470.5 379.4,481.1 425.6,472.5" fill="none" stroke="#f010f0" stroke-width="2.4" stroke-linejoin="round" stroke-linecap="round"/>
<path d="M53 463.7L55.8 468.8L50.2 468.8Z" fill="#f010f0"/>
<path d="M73 464.7L75.8 469.8L70.2 469.8Z" fill="#f010f0"/>
<path d="M111.8 464.7L114.6 469.8L109 469.8Z" fill="#f010f0"/>
<path d="M120.5 464.7L123.3 469.8L117.7 469.8Z" fill="#f010f0"/>
<path d="M124.3 461.7L127.1 466.8L121.5 466.8Z" fill="#f010f0"/>
<path d="M136.8 462.7L139.6 467.8L134 467.8Z" fill="#f010f0"/>
<path d="M140.5 463.5L143.3 468.6L137.7 468.6Z" fill="#f010f0"/>
<path d="M145.5 464.7L148.3 469.8L142.7 469.8Z" fill="#f010f0"/>
<path d="M155.5 462.2L158.3 467.3L152.7 467.3Z" fill="#f010f0"/>
<path d="M168 464.2L170.8 469.3L165.2 469.3Z" fill="#f010f0"/>
<path d="M178 465.7L180.8 470.8L175.2 470.8Z" fill="#f010f0"/>
<path d="M183.7 465.9L186.5 471L180.9 471Z" fill="#f010f0"/>
<path d="M205 462.7L207.8 467.8L202.2 467.8Z" fill="#f010f0"/>
<path d="M221 461.7L223.8 466.8L218.2 466.8Z" fill="#f010f0"/>
<path d="M231 463.2L233.8 468.3L228.2 468.3Z" fill="#f010f0"/>
<path d="M248.7 463.2L251.5 468.3L245.9 468.3Z" fill="#f010f0"/>
<path d="M260 467.2L262.8 472.3L257.2 472.3Z" fill="#f010f0"/>
<path d="M300 467.2L302.8 472.3L297.2 472.3Z" fill="#f010f0"/>
<path d="M336.2 466.8L339 471.9L333.4 471.9Z" fill="#f010f0"/>
<path d="M356.3 476.3L359.1 481.4L353.5 481.4Z" fill="#f010f0"/>
<path d="M356.3 467.7L359.1 472.8L353.5 472.8Z" fill="#f010f0"/>
<path d="M379.4 478.3L382.2 483.4L376.6 483.4Z" fill="#f010f0"/>
<path d="M425.6 469.7L428.4 474.8L422.8 474.8Z" fill="#f010f0"/>
<polyline points="53,450.5 73,451 110.5,452.5 123,453.7 145.5,452 168,454 183.7,453.7 205,452.5 221,450.5 231,451 248.7,452.5 260,458.7 272.5,462 300,466 336.2,471.3 356.3,473.4 379.4,474.8 425.6,512.9" fill="none" stroke="#000000" stroke-width="2.4" stroke-linejoin="round" stroke-linecap="round"/>
<path d="M53 447.8L55.7 450.5L53 453.2L50.3 450.5Z" fill="#000000"/>
<path d="M73 448.3L75.7 451L73 453.7L70.3 451Z" fill="#000000"/>
<path d="M110.5 449.8L113.2 452.5L110.5 455.2L107.8 452.5Z" fill="#000000"/>
<path d="M123 451L125.7 453.7L123 456.4L120.3 453.7Z" fill="#000000"/>
<path d="M145.5 449.3L148.2 452L145.5 454.7L142.8 452Z" fill="#000000"/>
<path d="M168 451.3L170.7 454L168 456.7L165.3 454Z" fill="#000000"/>
<path d="M183.7 451L186.4 453.7L183.7 456.4L181 453.7Z" fill="#000000"/>
<path d="M205 449.8L207.7 452.5L205 455.2L202.3 452.5Z" fill="#000000"/>
<path d="M221 447.8L223.7 450.5L221 453.2L218.3 450.5Z" fill="#000000"/>
<path d="M231 448.3L233.7 451L231 453.7L228.3 451Z" fill="#000000"/>
<path d="M248.7 449.8L251.4 452.5L248.7 455.2L246 452.5Z" fill="#000000"/>
<path d="M260 456L262.7 458.7L260 461.4L257.3 458.7Z" fill="#000000"/>
<path d="M272.5 459.3L275.2 462L272.5 464.7L269.8 462Z" fill="#000000"/>
<path d="M300 463.3L302.7 466L300 468.7L297.3 466Z" fill="#000000"/>
<path d="M336.2 468.6L338.9 471.3L336.2 474L333.5 471.3Z" fill="#000000"/>
<path d="M356.3 470.7L359 473.4L356.3 476.1L353.6 473.4Z" fill="#000000"/>
<path d="M379.4 472.1L382.1 474.8L379.4 477.5L376.7 474.8Z" fill="#000000"/>
<path d="M425.6 510.2L428.3 512.9L425.6 515.6L422.9 512.9Z" fill="#000000"/>
<polyline points="53,438.5 73,443 110.5,452.5 123,451 138,452 145.5,455 148,460 168,461 170,466 183.7,468.7 205,465 221,470 231,463.7 248.7,483.7 260,473 272.5,501 300,503.7 334.7,506 342,528.2 355.8,548.4 379.4,497.3 425.6,481.1" fill="none" stroke="#1418d0" stroke-width="2.4" stroke-linejoin="round" stroke-linecap="round"/>
<path d="M50.5 436L55.5 441M50.5 441L55.5 436" stroke="#1418d0" stroke-width="1.5" fill="none"/>
<path d="M70.5 440.5L75.5 445.5M70.5 445.5L75.5 440.5" stroke="#1418d0" stroke-width="1.5" fill="none"/>
<path d="M108 450L113 455M108 455L113 450" stroke="#1418d0" stroke-width="1.5" fill="none"/>
<path d="M120.5 448.5L125.5 453.5M120.5 453.5L125.5 448.5" stroke="#1418d0" stroke-width="1.5" fill="none"/>
<path d="M135.5 449.5L140.5 454.5M135.5 454.5L140.5 449.5" stroke="#1418d0" stroke-width="1.5" fill="none"/>
<path d="M143 452.5L148 457.5M143 457.5L148 452.5" stroke="#1418d0" stroke-width="1.5" fill="none"/>
<path d="M145.5 457.5L150.5 462.5M145.5 462.5L150.5 457.5" stroke="#1418d0" stroke-width="1.5" fill="none"/>
<path d="M165.5 458.5L170.5 463.5M165.5 463.5L170.5 458.5" stroke="#1418d0" stroke-width="1.5" fill="none"/>
<path d="M167.5 463.5L172.5 468.5M167.5 468.5L172.5 463.5" stroke="#1418d0" stroke-width="1.5" fill="none"/>
<path d="M181.2 466.2L186.2 471.2M181.2 471.2L186.2 466.2" stroke="#1418d0" stroke-width="1.5" fill="none"/>
<path d="M202.5 462.5L207.5 467.5M202.5 467.5L207.5 462.5" stroke="#1418d0" stroke-width="1.5" fill="none"/>
<path d="M218.5 467.5L223.5 472.5M218.5 472.5L223.5 467.5" stroke="#1418d0" stroke-width="1.5" fill="none"/>
<path d="M228.5 461.2L233.5 466.2M228.5 466.2L233.5 461.2" stroke="#1418d0" stroke-width="1.5" fill="none"/>
<path d="M246.2 481.2L251.2 486.2M246.2 486.2L251.2 481.2" stroke="#1418d0" stroke-width="1.5" fill="none"/>
<path d="M257.5 470.5L262.5 475.5M257.5 475.5L262.5 470.5" stroke="#1418d0" stroke-width="1.5" fill="none"/>
<path d="M270 498.5L275 503.5M270 503.5L275 498.5" stroke="#1418d0" stroke-width="1.5" fill="none"/>
<path d="M297.5 501.2L302.5 506.2M297.5 506.2L302.5 501.2" stroke="#1418d0" stroke-width="1.5" fill="none"/>
<path d="M332.2 503.5L337.2 508.5M332.2 508.5L337.2 503.5" stroke="#1418d0" stroke-width="1.5" fill="none"/>
<path d="M339.5 525.7L344.5 530.7M339.5 530.7L344.5 525.7" stroke="#1418d0" stroke-width="1.5" fill="none"/>
<path d="M353.3 545.9L358.3 550.9M353.3 550.9L358.3 545.9" stroke="#1418d0" stroke-width="1.5" fill="none"/>
<path d="M376.9 494.8L381.9 499.8M376.9 499.8L381.9 494.8" stroke="#1418d0" stroke-width="1.5" fill="none"/>
<path d="M423.1 478.6L428.1 483.6M423.1 483.6L428.1 478.6" stroke="#1418d0" stroke-width="1.5" fill="none"/>
<polyline points="54,538.8 71.8,540.5 74.3,537.5 110.5,538 114.3,541.3 121.8,543.8 124.3,539.5 138,543 144.3,543 146.8,540 155.5,542.5 169.3,542 171.8,540 178,540.5 183.7,542 205,539.5 221,536 231,536 248.7,538.7 260,541 272.5,542.5 300,542.5 336.2,542.6 342,540.6 355.8,543.5 356.3,538.3 379.4,529.6 425.6,550.4" fill="none" stroke="#700074" stroke-width="2.4" stroke-linejoin="round" stroke-linecap="round"/>
<circle cx="54" cy="538.8" r="2.3" fill="#700074"/>
<circle cx="71.8" cy="540.5" r="2.3" fill="#700074"/>
<circle cx="74.3" cy="537.5" r="2.3" fill="#700074"/>
<circle cx="110.5" cy="538" r="2.3" fill="#700074"/>
<circle cx="114.3" cy="541.3" r="2.3" fill="#700074"/>
<circle cx="121.8" cy="543.8" r="2.3" fill="#700074"/>
<circle cx="124.3" cy="539.5" r="2.3" fill="#700074"/>
<circle cx="138" cy="543" r="2.3" fill="#700074"/>
<circle cx="144.3" cy="543" r="2.3" fill="#700074"/>
<circle cx="146.8" cy="540" r="2.3" fill="#700074"/>
<circle cx="155.5" cy="542.5" r="2.3" fill="#700074"/>
<circle cx="169.3" cy="542" r="2.3" fill="#700074"/>
<circle cx="171.8" cy="540" r="2.3" fill="#700074"/>
<circle cx="178" cy="540.5" r="2.3" fill="#700074"/>
<circle cx="183.7" cy="542" r="2.3" fill="#700074"/>
<circle cx="205" cy="539.5" r="2.3" fill="#700074"/>
<circle cx="221" cy="536" r="2.3" fill="#700074"/>
<circle cx="231" cy="536" r="2.3" fill="#700074"/>
<circle cx="248.7" cy="538.7" r="2.3" fill="#700074"/>
<circle cx="260" cy="541" r="2.3" fill="#700074"/>
<circle cx="272.5" cy="542.5" r="2.3" fill="#700074"/>
<circle cx="300" cy="542.5" r="2.3" fill="#700074"/>
<circle cx="336.2" cy="542.6" r="2.3" fill="#700074"/>
<circle cx="342" cy="540.6" r="2.3" fill="#700074"/>
<circle cx="355.8" cy="543.5" r="2.3" fill="#700074"/>
<circle cx="356.3" cy="538.3" r="2.3" fill="#700074"/>
<circle cx="379.4" cy="529.6" r="2.3" fill="#700074"/>
<circle cx="425.6" cy="550.4" r="2.3" fill="#700074"/>
<polyline points="53.8,657.3 71,659.2 111.5,658.5 115.3,660.4 121,659.6 125,657.3 138.4,659.2 146,657.3 155,657.7 169,659.6 170,658.5 183.4,661 203.8,659.2 221,658 231.8,658.8 247.7,657.3 259.2,655.4 272.7,659.2 334.2,658 342,658.5 355.4,657.3 355.4,661 380.4,648.8 424.6,648" fill="none" stroke="#f5a020" stroke-width="2.4" stroke-linejoin="round" stroke-linecap="round"/>
<rect x="51.7" y="655.2" width="4.2" height="4.2" fill="#f5a020"/>
<rect x="68.9" y="657.1" width="4.2" height="4.2" fill="#f5a020"/>
<rect x="109.4" y="656.4" width="4.2" height="4.2" fill="#f5a020"/>
<rect x="113.2" y="658.3" width="4.2" height="4.2" fill="#f5a020"/>
<rect x="118.9" y="657.5" width="4.2" height="4.2" fill="#f5a020"/>
<rect x="122.9" y="655.2" width="4.2" height="4.2" fill="#f5a020"/>
<rect x="136.3" y="657.1" width="4.2" height="4.2" fill="#f5a020"/>
<rect x="143.9" y="655.2" width="4.2" height="4.2" fill="#f5a020"/>
<rect x="152.9" y="655.6" width="4.2" height="4.2" fill="#f5a020"/>
<rect x="166.9" y="657.5" width="4.2" height="4.2" fill="#f5a020"/>
<rect x="167.9" y="656.4" width="4.2" height="4.2" fill="#f5a020"/>
<rect x="181.3" y="658.9" width="4.2" height="4.2" fill="#f5a020"/>
<rect x="201.7" y="657.1" width="4.2" height="4.2" fill="#f5a020"/>
<rect x="218.9" y="655.9" width="4.2" height="4.2" fill="#f5a020"/>
<rect x="229.7" y="656.7" width="4.2" height="4.2" fill="#f5a020"/>
<rect x="245.6" y="655.2" width="4.2" height="4.2" fill="#f5a020"/>
<rect x="257.1" y="653.3" width="4.2" height="4.2" fill="#f5a020"/>
<rect x="270.6" y="657.1" width="4.2" height="4.2" fill="#f5a020"/>
<rect x="332.1" y="655.9" width="4.2" height="4.2" fill="#f5a020"/>
<rect x="339.9" y="656.4" width="4.2" height="4.2" fill="#f5a020"/>
<rect x="353.3" y="655.2" width="4.2" height="4.2" fill="#f5a020"/>
<rect x="353.3" y="658.9" width="4.2" height="4.2" fill="#f5a020"/>
<rect x="378.3" y="646.7" width="4.2" height="4.2" fill="#f5a020"/>
<rect x="422.5" y="645.9" width="4.2" height="4.2" fill="#f5a020"/>
<rect x="443.5" y="403.5" width="76" height="257.5" fill="none" stroke="#bcbcbc" stroke-width="1.3"/>
<path d="M452 419.5H470" stroke="#dc0e16" stroke-width="2.4"/>
<text x="473" y="424.5" class="t">FLC</text>
<path d="M452 451.77H470" stroke="#700c12" stroke-width="2.4"/>
<rect x="458.8" y="449.57" width="4.4" height="4.4" fill="#700c12"/>
<text x="473" y="456.77" class="t">IGHV</text>
<path d="M452 484.04H470" stroke="#20e8e0" stroke-width="2.4"/>
<path d="M461 481.24L463.8 486.34L458.2 486.34Z" fill="#20e8e0"/>
<text x="473" y="489.04" class="t">CD49d</text>
<path d="M452 516.31H470" stroke="#f010f0" stroke-width="2.4"/>
<path d="M461 513.51L463.8 518.61L458.2 518.61Z" fill="#f010f0"/>
<text x="473" y="521.31" class="t">ZAP70</text>
<path d="M452 548.58H470" stroke="#000000" stroke-width="2.4"/>
<path d="M461 545.88L463.7 548.58L461 551.28L458.3 548.58Z" fill="#000000"/>
<text x="473" y="553.58" class="t">CD38</text>
<path d="M452 580.85H470" stroke="#1418d0" stroke-width="2.4"/>
<path d="M458.5 578.35L463.5 583.35M458.5 583.35L463.5 578.35" stroke="#1418d0" stroke-width="1.5" fill="none"/>
<text x="473" y="585.85" class="t">FISH</text>
<path d="M452 613.12H470" stroke="#700074" stroke-width="2.4"/>
<circle cx="461" cy="613.12" r="2.3" fill="#700074"/>
<text x="473" y="618.12" class="t">B2M</text>
<path d="M452 645.39H470" stroke="#f5a020" stroke-width="2.4"/>
<rect x="458.9" y="643.29" width="4.2" height="4.2" fill="#f5a020"/>
<text x="473" y="650.39" class="t">ALC</text>
</svg>
</body></html>
